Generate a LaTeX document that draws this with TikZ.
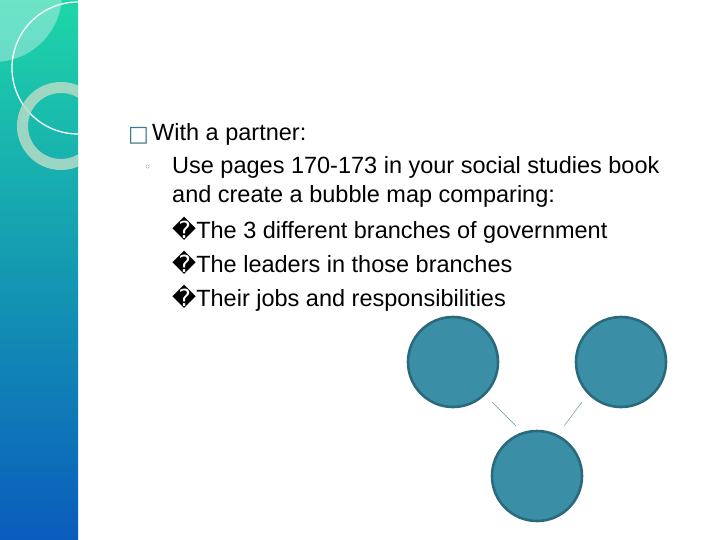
\documentclass[tikz,border=0pt]{standalone}
\usepackage{fontspec}
\setmainfont{Liberation Sans}
\newfontfamily\dv{DejaVu Sans}
\definecolor{bub}{HTML}{3A8FA6}
\definecolor{bubline}{HTML}{2A6A7C}
\definecolor{bul}{HTML}{3B7A90}
\definecolor{stripTop}{HTML}{1ED6A8}
\definecolor{stripMid}{HTML}{14B0E4}
\definecolor{stripBot}{HTML}{0A5CBC}
\definecolor{ringc}{HTML}{B4DCC8}
\begin{document}
\begin{tikzpicture}[x=1pt,y=-1pt,
  bubble/.style={circle,fill=bub,draw=bubline,line width=2.6pt,minimum size=90pt,inner sep=0},
  txt/.style={anchor=base west,inner sep=0,font=\fontsize{23.5}{26}\selectfont},
  link/.style={draw=bubline!70,line width=0.5pt}]
\useasboundingbox (0,0) rectangle (720,540);
\fill[white] (0,0) rectangle (720,540);
\shade[top color=stripTop, middle color=stripMid, bottom color=stripBot] (0,0) rectangle (78,540);
\begin{scope}
\clip (0,0) rectangle (78,540);
\fill[white,opacity=0.35] (-6,-6) circle (68);
\draw[white,line width=1.3pt] (78,68) circle (66);
\draw[ringc,opacity=0.85,line width=11pt] (61,126) circle (38.5);
\end{scope}
\node[txt,text=bul] (b1) at (128,142) {\dv\fontsize{22}{24}\selectfont □};
\node[txt] (t1) at (152,141) {With a partner:};
\node[txt,text=bul] (b2) at (144,172) {\dv\fontsize{12}{14}\selectfont ◦};
\node[txt] (t2) at (172,174) {Use pages 170-173 in your social studies book};
\node[txt] (t3) at (172,203) {and create a bubble map comparing:};
\node[txt] (t4) at (172,238) {{\dv �}The 3 different branches of government};
\node[txt] (t5) at (172,272) {{\dv �}The leaders in those branches};
\node[txt] (t6) at (172,306) {{\dv �}Their jobs and responsibilities};
\node[bubble] (c1) at (453,362) {};
\node[bubble] (c2) at (621,362) {};
\node[bubble] (c3) at (537,476) {};
\coordinate (l1a) at (492,402); \coordinate (l1b) at (516,426);
\coordinate (l2a) at (582,402); \coordinate (l2b) at (564,426);
\draw[link] (l1a) -- (l1b);
\draw[link] (l2a) -- (l2b);
\end{tikzpicture}
\end{document}
